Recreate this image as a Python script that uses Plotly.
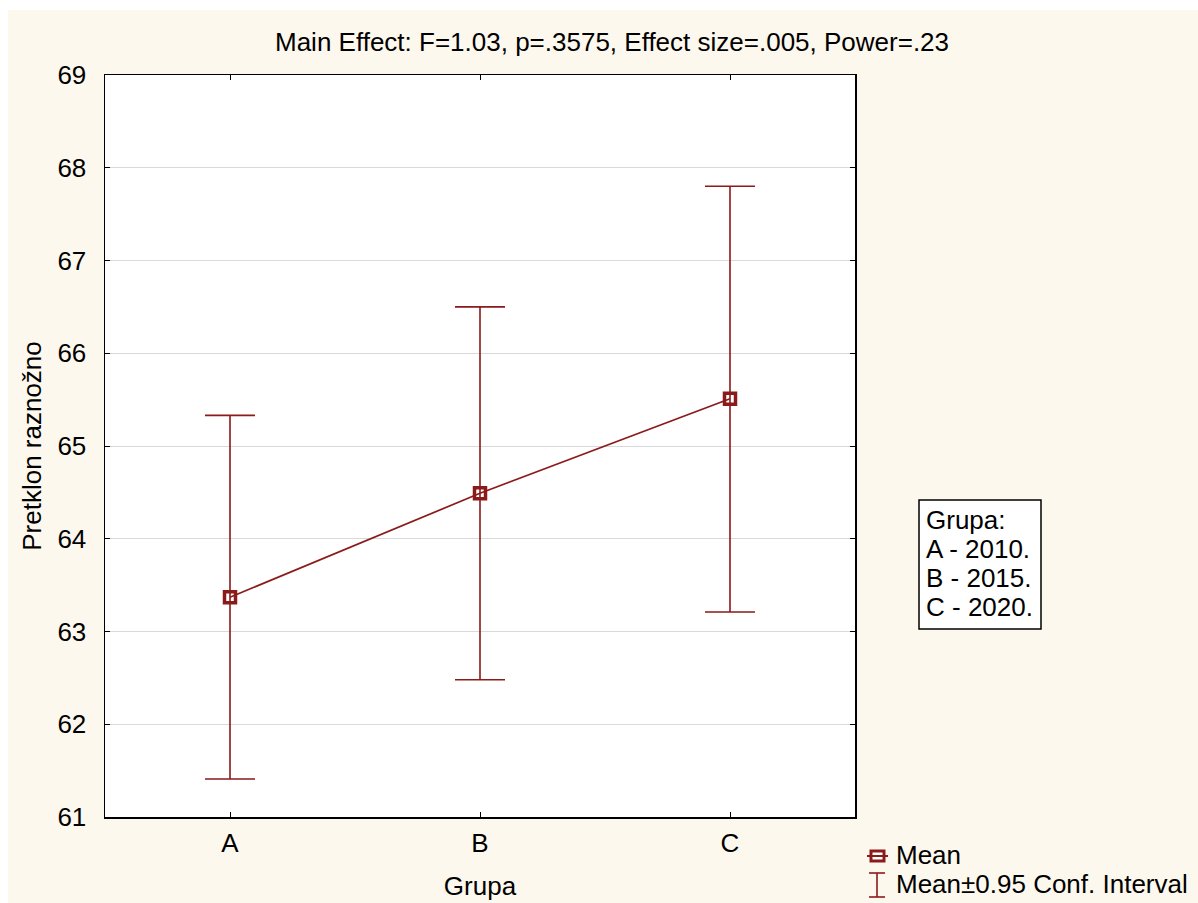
import plotly.graph_objects as go

categories = ["A", "B", "C"]
means = [63.37, 64.49, 65.51]
ci_upper = [65.33, 66.50, 67.80]
ci_lower = [61.41, 62.48, 63.21]
y_ticks = [61, 62, 63, 64, 65, 66, 67, 68, 69]
group_legend = ["Grupa:", "A - 2010.", "B - 2015.", "C - 2020."]
title_text = "Main Effect: F=1.03, p=.3575, Effect size=.005, Power=.23"

RED = "#8B1A1A"
CREAM = "#FDF8EE"
FONT = "Liberation Sans, Arial, sans-serif"
FS = 26

W, H = 1198, 903                 # figure size (page margin removed below)
L, R, T, B = 105, 855, 75, 817   # plot area in screen pixels


def px(x):
    return (x - L) / (R - L)


def py(y):
    return (B - y) / (B - T)


x_idx = list(range(len(categories)))
err_plus = [u - m for u, m in zip(ci_upper, means)]
err_minus = [m - l for m, l in zip(means, ci_lower)]

fig = go.Figure()
fig.add_trace(go.Scatter(
    x=x_idx, y=means, mode="lines+markers",
    line=dict(color=RED, width=1.7),
    marker=dict(symbol="square-open", size=11, color=RED, line=dict(width=3.5, color=RED)),
    error_y=dict(type="data", symmetric=False, array=err_plus, arrayminus=err_minus,
                 color=RED, thickness=1.6, width=25),
    showlegend=False, hoverinfo="skip",
))

fig.update_layout(
    width=W, height=H,
    margin=dict(l=L, r=W - R, t=T, b=H - B, pad=0),
    paper_bgcolor=CREAM, plot_bgcolor="white",
    font=dict(family=FONT, size=FS, color="black"),
    showlegend=False,
)
fig.update_xaxes(
    range=[-0.5, 2.5], tickvals=x_idx, ticktext=categories,
    showgrid=False, zeroline=False, automargin=False,
    showline=True, linecolor="black", linewidth=1.5, mirror="ticks",
    ticks="inside", ticklen=5, tickcolor="black", tickwidth=1,
    tickfont=dict(size=FS), ticklabelstandoff=2,
    title=dict(text="Grupa", font=dict(size=FS), standoff=20),
)
fig.update_yaxes(
    range=[61, 69], tickvals=y_ticks, ticktext=[str(v) for v in y_ticks],
    showgrid=True, gridcolor="#D9D9D9", gridwidth=1, zeroline=False, automargin=False,
    showline=True, linecolor="black", linewidth=1.5, mirror="ticks",
    ticks="inside", ticklen=5, tickcolor="black", tickwidth=1,
    tickfont=dict(size=FS), ticklabelstandoff=12,
    title=dict(text="Pretklon raznožno", font=dict(size=FS), standoff=8),
)

shapes = []
# white strips at left and top of the page
shapes.append(dict(type="rect", xref="paper", yref="paper", x0=px(0), x1=px(8), y0=py(H), y1=py(0),
                   fillcolor="white", line=dict(width=0), layer="below"))
shapes.append(dict(type="rect", xref="paper", yref="paper", x0=px(0), x1=px(W), y0=py(10), y1=py(0),
                   fillcolor="white", line=dict(width=0), layer="below"))
# group legend box
shapes.append(dict(type="rect", xref="paper", yref="paper", x0=px(919), x1=px(1041), y0=py(629), y1=py(500),
                   fillcolor="white", line=dict(color="black", width=1.5)))
# bottom legend: mean glyph
shapes.append(dict(type="rect", xref="paper", yref="paper", x0=px(871), x1=px(884), y0=py(861), y1=py(851),
                   fillcolor="white", line=dict(color=RED, width=3)))
shapes.append(dict(type="line", xref="paper", yref="paper", x0=px(867), x1=px(888), y0=py(856), y1=py(856),
                   line=dict(color=RED, width=2)))
# bottom legend: CI glyph
shapes.append(dict(type="line", xref="paper", yref="paper", x0=px(877), x1=px(877), y0=py(897), y1=py(873),
                   line=dict(color=RED, width=1.6)))
shapes.append(dict(type="line", xref="paper", yref="paper", x0=px(869), x1=px(885), y0=py(873), y1=py(873),
                   line=dict(color=RED, width=1.6)))
shapes.append(dict(type="line", xref="paper", yref="paper", x0=px(869), x1=px(885), y0=py(897), y1=py(897),
                   line=dict(color=RED, width=1.6)))
fig.update_layout(shapes=shapes)

ann = []
ann.append(dict(text=title_text, xref="paper", yref="paper", x=px(612), y=py(42),
                xanchor="center", yanchor="middle", showarrow=False, font=dict(size=FS)))
for i, t in enumerate(group_legend):
    ann.append(dict(text=t, xref="paper", yref="paper", x=px(924), y=py(520 + 29 * i),
                    xanchor="left", yanchor="middle", showarrow=False, font=dict(size=FS)))
ann.append(dict(text="Mean", xref="paper", yref="paper", x=px(894), y=py(855),
                xanchor="left", yanchor="middle", showarrow=False, font=dict(size=FS)))
ann.append(dict(text="Mean±0.95 Conf. Interval", xref="paper", yref="paper", x=px(894), y=py(884),
                xanchor="left", yanchor="middle", showarrow=False, font=dict(size=FS)))
fig.update_layout(annotations=ann)

post = ("document.documentElement.style.margin='0';"
        "document.documentElement.style.overflow='hidden';"
        "document.body.style.margin='0';"
        "document.body.style.overflow='hidden';"
        "var d=document.getElementById('{plot_id}');"
        "d.style.position='fixed';d.style.left='0px';d.style.top='0px';")
fig.write_html("out.html", post_script=post, config={"displayModeBar": False, "staticPlot": True})
